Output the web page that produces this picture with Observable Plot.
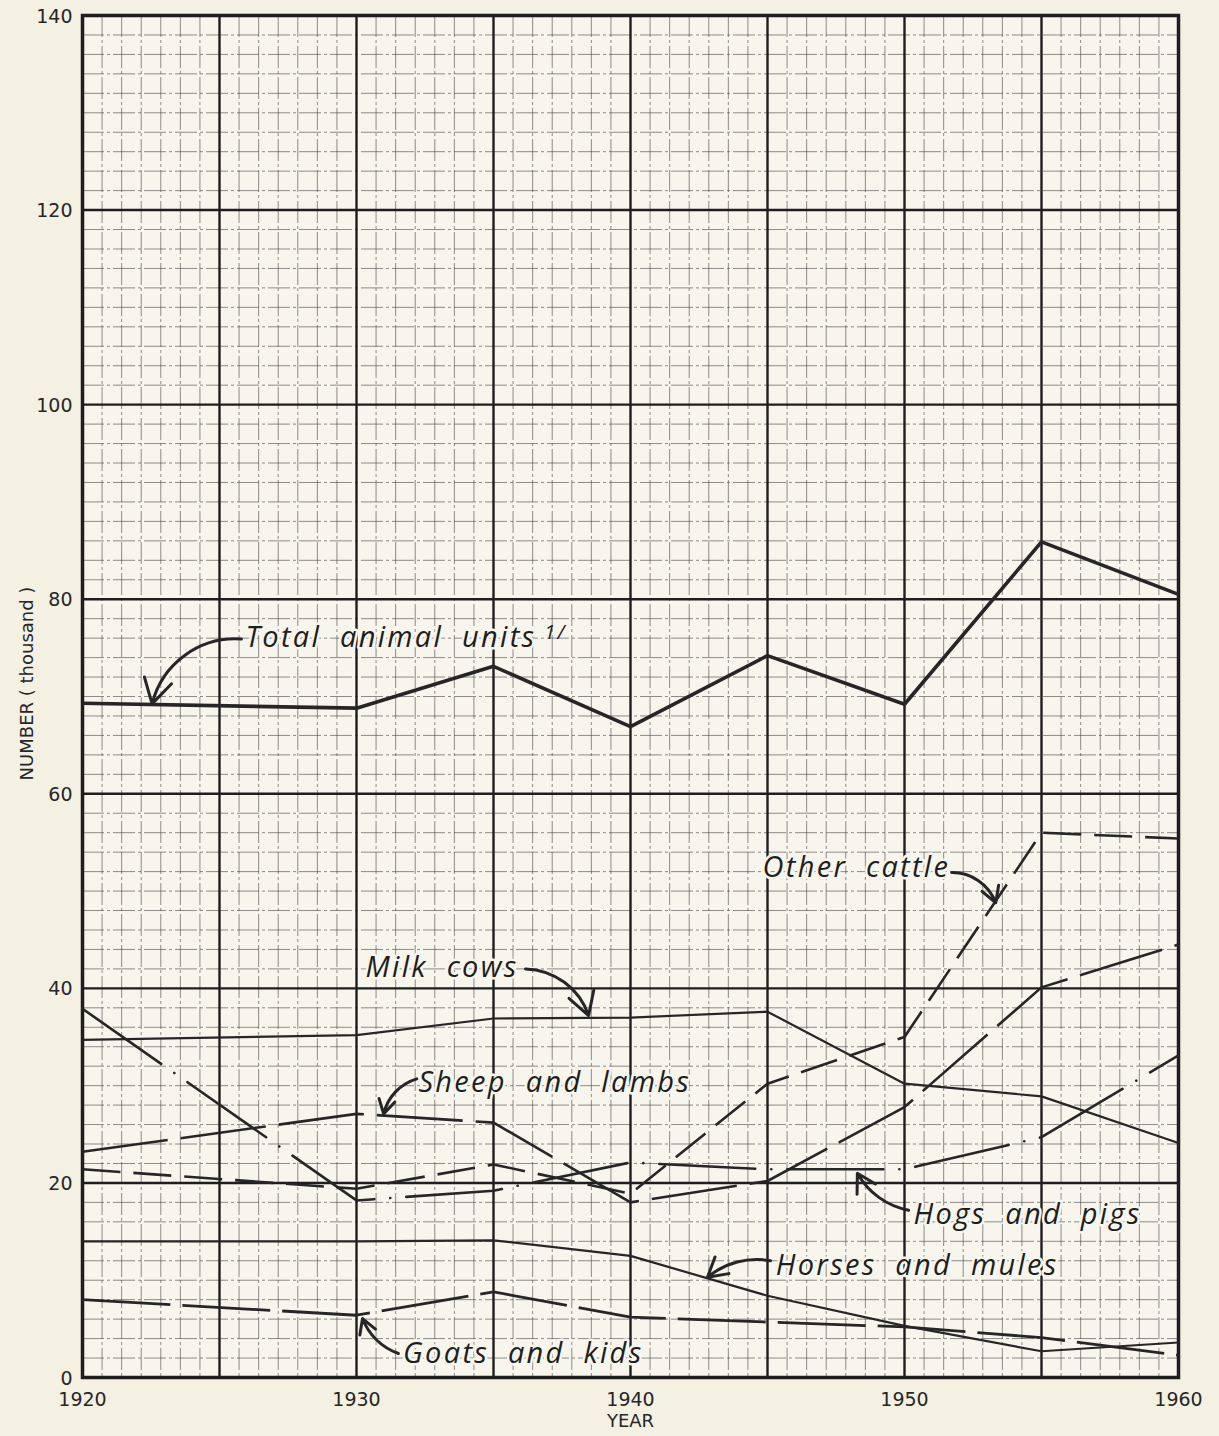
<!DOCTYPE html>
<html>
<head>
<meta charset="utf-8">
<script src="https://cdn.jsdelivr.net/npm/d3@7"></script>
<script src="https://cdn.jsdelivr.net/npm/@observablehq/plot@0.6"></script>
<style>
  html, body { margin: 0; padding: 0; background: #f4f1e3; }
  #chart { width: 1219px; height: 1436px; }
  #chart g[font-style="italic"] text { letter-spacing: 2.3px; word-spacing: 9px; }
</style>
</head>
<body>
<div id="chart"></div>
<script>
// ---- data (thousands) ----
const years = [1920, 1930, 1935, 1940, 1945, 1950, 1955, 1960];
const totalAnimalUnits = [69.3, 68.8, 73.1, 66.9, 74.2, 69.2, 85.9, 80.5];
const otherCattle      = [21.4, 19.4, 21.9, 18.9, 30.2, 35.0, 56.0, 55.4];
const milkCows         = [34.7, 35.2, 36.9, 37.0, 37.6, 30.2, 28.9, 24.1];
const sheepAndLambs    = [23.2, 27.1, 26.2, 18.0, 20.2, 27.8, 40.1, 44.5];
const hogsAndPigs      = [37.9, 18.2, 19.2, 22.1, 21.4, 21.4, 24.7, 33.1];
const horsesAndMules   = [14.0, 14.0, 14.1, 12.5, 8.4, 5.3, 2.7, 3.6];
const goatsAndKids     = [8.0, 6.4, 8.8, 6.2, 5.7, 5.2, 4.1, 2.3];

const xTicks = [1920, 1930, 1940, 1950, 1960];
const yTicks = [0, 20, 40, 60, 80, 100, 120, 140];

// label annotations (data coordinates) and their arrows
const labelNames = ["Total animal units", "Other cattle", "Milk cows", "Sheep and lambs", "Hogs and pigs", "Horses and mules", "Goats and kids"];
const labelX = [1925.95, 1944.82, 1930.33, 1932.26, 1950.33, 1945.3, 1931.7];
const labelY = [76.0, 52.4, 42.1, 30.3, 16.75, 11.5, 2.45];
const arrowX1 = [1925.8, 1951.72, 1936.17, 1932.2, 1950.15, 1945.11, 1931.53];
const arrowY1 = [75.9, 51.9, 42.0, 30.7, 17.2, 12.0, 2.47];
const arrowX2 = [1922.54, 1953.33, 1938.47, 1930.99, 1948.28, 1942.81, 1930.22];
const arrowY2 = [69.24, 48.8, 37.2, 27.1, 21.0, 10.3, 6.06];
const arrowBend = [-40, 35, 35, -30, 25, -25, 25];
const footnote = {text: "1/", x: 1936.85, y: 76.6};

// ---- styling (kept apart from the data) ----
const ink = "#262626";
const series = [
  {values: totalAnimalUnits, width: 3.6, dash: null},
  {values: otherCattle, width: 2.6, dash: "38,13"},
  {values: milkCows, width: 2.2, dash: null},
  {values: sheepAndLambs, width: 2.6, dash: "86,13"},
  {values: hogsAndPigs, width: 2.6, dash: "96,16,0.1,16"},
  {values: horsesAndMules, width: 2.2, dash: null},
  {values: goatsAndKids, width: 2.8, dash: "88,12"}
];

const minorX = d3.range(0, 57).filter(k => k % 7 !== 0).map(k => 1920 + k * 5 / 7);
const minorY = d3.range(2, 140, 2).filter(v => v % 20 !== 0);
const majorX = d3.range(1925, 1960, 5);
const majorY = d3.range(20, 140, 20);

const labels = labelNames.map((t, i) => ({t, x: labelX[i], y: labelY[i]}));
const arrows = labelNames.map((t, i) => ({x1: arrowX1[i], y1: arrowY1[i], x2: arrowX2[i], y2: arrowY2[i], bend: arrowBend[i]}));

const lineMarks = series.map(s =>
  Plot.line(years.map((yr, i) => ({year: yr, value: s.values[i]})), {
    x: "year", y: "value", stroke: ink, strokeWidth: s.width,
    strokeDasharray: s.dash, strokeLinecap: s.dash && s.dash.includes("0.1") ? "round" : "butt",
    strokeLinejoin: "round"
  })
);

const arrowMarks = arrows.map(a =>
  Plot.arrow([a], {x1: "x1", y1: "y1", x2: "x2", y2: "y2", bend: a.bend,
    stroke: ink, strokeWidth: 3, headLength: 14, insetStart: 0, insetEnd: 0})
);

const chart = Plot.plot({
  width: 1219,
  height: 1436,
  marginLeft: 82,
  marginRight: 41,
  marginTop: 15,
  marginBottom: 59,
  x: {domain: [1920, 1960], axis: null},
  y: {domain: [0, 140], axis: null},
  style: {background: "#f4f1e3", fontFamily: "DejaVu Sans", color: ink},
  marks: [
    Plot.frame({fill: "#f7f5ec", stroke: null}),
    Plot.ruleX(minorX, {stroke: "#444", strokeWidth: 1, strokeOpacity: 0.6, strokeDasharray: "22,3,3,3"}),
    Plot.ruleY(minorY, {stroke: "#444", strokeWidth: 1, strokeOpacity: 0.6, strokeDasharray: "22,3,3,3"}),
    Plot.ruleX(majorX, {stroke: "#1e1e1e", strokeWidth: 2.4}),
    Plot.ruleY(majorY, {stroke: "#1e1e1e", strokeWidth: 2.4}),
    Plot.frame({stroke: "#1e1e1e", strokeWidth: 3.5}),
    ...lineMarks,
    ...arrowMarks,
    Plot.text(labels, {x: "x", y: "y", text: "t", textAnchor: "start", lineAnchor: "middle",
      fontFamily: "Open Sans", fontStyle: "italic", fontSize: 29, fill: "#1e1e1e",
      stroke: "#f7f5ec", strokeWidth: 5}),
    Plot.text([footnote], {x: "x", y: "y", text: "text", textAnchor: "start", lineAnchor: "middle",
      fontFamily: "Open Sans", fontStyle: "italic", fontSize: 20, fill: "#1e1e1e"}),
    Plot.axisX(xTicks, {tickSize: 0, tickPadding: 15, tickFormat: d => String(d), fontSize: 19, label: null, fill: ink}),
    Plot.axisY(yTicks, {tickSize: 0, tickPadding: 10, tickFormat: d => String(d), fontSize: 19, label: null, dy: 1, fill: ink}),
    Plot.text(["YEAR"], {frameAnchor: "bottom", dy: 49, text: d => d, fontSize: 18, fill: ink}),
    Plot.text(["NUMBER ( thousand )"], {frameAnchor: "left", textAnchor: "middle", dx: -55, dy: -13, rotate: -90,
      text: d => d, fontSize: 18, fill: ink})
  ]
});
document.getElementById("chart").appendChild(chart);
</script>
</body>
</html>
